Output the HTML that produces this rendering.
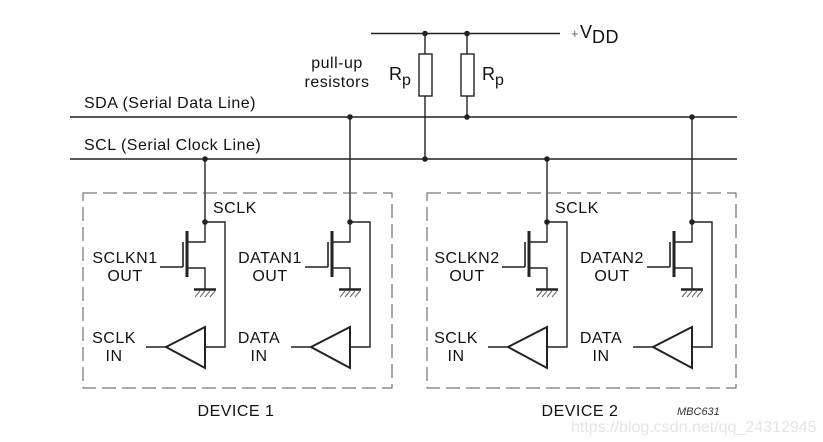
<!DOCTYPE html>
<html><head><meta charset="utf-8"><style>
html,body{margin:0;padding:0;background:#fff}
svg{display:block}
text{font-family:"Liberation Sans",Arial,sans-serif;font-size:16px;letter-spacing:0.5px;fill:#111}
</style></head><body>
<svg width="823" height="442" viewBox="0 0 823 442" xmlns="http://www.w3.org/2000/svg">
<defs>
<g id="cell" stroke="#222" fill="none" stroke-width="1.4">
  <path d="M0,222 H20 V347 H0"/>
  <path d="M0,327 L-39,347 L0,368 Z" stroke-width="2"/>
  <path d="M-59,347 H-39"/>
  <path d="M0,222 V242 H-17"/>
  <path d="M-18,231 V277" stroke-width="3"/>
  <path d="M-22,242 V267" stroke-width="1.6"/>
  <path d="M-45,267 H-22"/>
  <path d="M-17,268 H0 V289"/>
  <path d="M-11,289.5 H11" stroke-width="2.5"/>
  <path d="M-10,297 L-5,291 M-5,297 L0,291 M0,297 L5,291 M5,297 L10,291" stroke-width="1" stroke="#666"/>
  <circle cx="0" cy="222" r="2.8" fill="#222" stroke="none"/>
</g>
</defs>
<g stroke="#222" stroke-width="1.4" fill="none">
  <path d="M371,33.5 H560"/>
  <path d="M425,33.5 V54 M425,96 V159"/>
  <path d="M467,33.5 V54 M467,96 V117"/>
  <rect x="419" y="54" width="13" height="42" fill="#fff"/>
  <rect x="461" y="54" width="13" height="42" fill="#fff"/>
  <path d="M70,117 H737"/>
  <path d="M70,159 H737"/>
  <path d="M205,159 V222 M350,117 V222 M547,159 V222 M692,117 V222"/>
  <rect x="83" y="193" width="309" height="195" stroke-dasharray="14,6" stroke="#555" stroke-width="1"/>
  <rect x="427" y="193" width="309" height="195" stroke-dasharray="14,6" stroke="#555" stroke-width="1"/>
</g>
<g fill="#222">
  <circle cx="425" cy="33.5" r="2.8"/><circle cx="467" cy="33.5" r="2.8"/>
  <circle cx="350" cy="117" r="2.8"/><circle cx="467" cy="117" r="2.8"/><circle cx="692" cy="117" r="2.8"/>
  <circle cx="205" cy="159" r="2.8"/><circle cx="425" cy="159" r="2.8"/><circle cx="547" cy="159" r="2.8"/>
</g>
<use href="#cell" x="205"/>
<use href="#cell" x="350"/>
<use href="#cell" x="547"/>
<use href="#cell" x="692"/>
<text x="571" y="38" style="font-size:13px;fill:#666">+</text>
<text x="580" y="38" style="font-size:18px">V</text>
<text x="592" y="43" style="font-size:18px">DD</text>
<text x="337" y="68" text-anchor="middle">pull-up</text>
<text x="337" y="87" text-anchor="middle">resistors</text>
<text x="389" y="80" style="font-size:18px">R</text><text x="402" y="85">p</text>
<text x="482" y="80" style="font-size:18px">R</text><text x="495" y="85">p</text>
<text x="84" y="108">SDA (Serial Data Line)</text>
<text x="84" y="150">SCL (Serial Clock Line)</text>
<text x="213" y="213">SCLK</text>
<text x="555" y="213">SCLK</text>
<text x="125" y="263" text-anchor="middle">SCLKN1</text><text x="125" y="281" text-anchor="middle">OUT</text>
<text x="270" y="263" text-anchor="middle">DATAN1</text><text x="270" y="281" text-anchor="middle">OUT</text>
<text x="467" y="263" text-anchor="middle">SCLKN2</text><text x="467" y="281" text-anchor="middle">OUT</text>
<text x="612" y="263" text-anchor="middle">DATAN2</text><text x="612" y="281" text-anchor="middle">OUT</text>
<text x="114" y="343" text-anchor="middle">SCLK</text><text x="114" y="361" text-anchor="middle">IN</text>
<text x="259" y="343" text-anchor="middle">DATA</text><text x="259" y="361" text-anchor="middle">IN</text>
<text x="456" y="343" text-anchor="middle">SCLK</text><text x="456" y="361" text-anchor="middle">IN</text>
<text x="601" y="343" text-anchor="middle">DATA</text><text x="601" y="361" text-anchor="middle">IN</text>
<text x="236" y="416" text-anchor="middle">DEVICE 1</text>
<text x="580" y="416" text-anchor="middle">DEVICE 2</text>
<text x="677" y="415" style="font-size:11px;letter-spacing:0;font-style:italic;fill:#333">MBC631</text>
<text x="571" y="432" style="font-size:16px;letter-spacing:0;fill:#e4e4e4">https://blog.csdn.net/qq_24312945</text>
</svg>
</body></html>
